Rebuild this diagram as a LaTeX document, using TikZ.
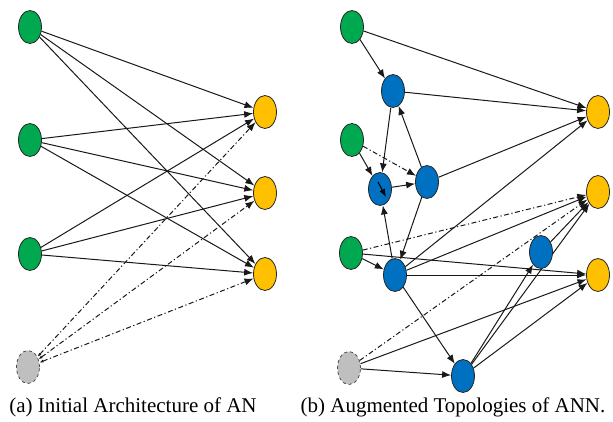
\documentclass[tikz,border=0pt]{standalone}
\usepackage{fontspec}
\setmainfont{Liberation Serif}
\newfontfamily\capfont{Liberation Serif}
\usetikzlibrary{arrows.meta,shapes.geometric}
\pgfdeclarelayer{bg}
\pgfsetlayers{bg,main}
\definecolor{ingreen}{RGB}{0,168,80}
\definecolor{hidblue}{RGB}{0,112,192}
\definecolor{outyel}{RGB}{255,192,0}
\definecolor{biasgray}{RGB}{191,191,191}
\tikzset{
  neuron/.style={ellipse,draw=black!85,line width=0.8pt,minimum width=23pt,minimum height=33pt,inner sep=0pt},
  innode/.style={neuron,fill=ingreen},
  hidnode/.style={neuron,fill=hidblue},
  outnode/.style={neuron,fill=outyel},
  biasnode/.style={neuron,fill=biasgray,dashed,draw=black!70},
  conn/.style={line width=1pt,black!90,-{Latex[length=9pt,width=7pt]}},
  dconn/.style={conn,dash pattern=on 5pt off 2.5pt on 1.2pt off 2.5pt},
  captext/.style={font=\capfont\fontsize{21}{25}\selectfont,anchor=base}
}
\begin{document}
\begin{tikzpicture}[x=1pt,y=1pt]
\useasboundingbox (0,0) rectangle (613,-421);
% ---------- (a) ----------
\node[innode] (a1) at (30,-27) {};
\node[innode] (a2) at (30,-140) {};
\node[innode] (a3) at (30,-254) {};
\node[biasnode] (ab) at (28,-367) {};
\node[outnode] (ao1) at (265,-112) {};
\node[outnode] (ao2) at (265,-193) {};
\node[outnode] (ao3) at (265,-274) {};
\begin{pgfonlayer}{bg}
\foreach \i in {a1,a2,a3}{
  \foreach \o in {ao1,ao2,ao3}{
    \draw[conn] (\i) -- (\o);
  }
}
\foreach \o in {ao1,ao2,ao3}{
  \draw[dconn,{Latex[length=4pt,width=3pt]}-{Latex[length=9pt,width=7pt]}] (ab) -- (\o);
}
\end{pgfonlayer}
\node[captext] (capa) at (133,-412) {(a) Initial Architecture of AN};
% ---------- (b) ----------
\node[innode] (g1) at (352,-27) {};
\node[innode] (g2) at (352,-140) {};
\node[innode] (g3) at (351,-253) {};
\node[biasnode] (gb) at (349,-368) {};
\node[hidnode] (b1) at (393,-91) {};
\node[hidnode] (b2) at (380,-189) {};
\node[hidnode] (b3) at (427,-182) {};
\node[hidnode] (b4) at (395,-275) {};
\node[hidnode] (b5) at (541,-252) {};
\node[hidnode] (b6) at (463,-376) {};
\node[outnode] (y1) at (598,-112) {};
\node[outnode] (y2) at (598,-192) {};
\node[outnode] (y3) at (598,-275) {};
\coordinate (s1) at (378,-182);
\coordinate (s2) at (386,-197);
\draw[line width=1pt,-{Latex[length=8pt,width=6pt]}] (s1) -- (s2);
\begin{pgfonlayer}{bg}
\draw[conn] (g1) -- (y1);
\draw[conn] (g1) -- (b1);
\draw[conn] (b1) -- (y1);
\draw[conn] (b1) -- (b2);
\draw[conn] (b3) -- (b1);
\draw[conn] (g2) -- (b2);
\draw[dconn] (g2) -- (b3);
\draw[conn] (b2) -- (b3);
\draw[conn] (b3) -- (y1);
\draw[conn] (b3) -- (b4);
\draw[conn] (b4) -- (b2);
\draw[conn] (g3) -- (b4);
\draw[dconn] (g3) -- (y2);
\draw[conn] (g3) -- (y3);
\draw[conn] (b4) -- (y1);
\draw[conn] (b4) -- (y2);
\draw[conn] (b4) -- (y3);
\draw[conn] (b4) -- (b6);
\draw[conn] (gb) -- (b6);
\draw[conn] (gb) -- (y3);
\draw[dconn] (gb) -- (y2);
\draw[conn] (b6) -- (b5);
\draw[conn] (b6) -- (y2);
\draw[conn] (b6) -- (y3);
\draw[conn] (b5) -- (y2);
\end{pgfonlayer}
\node[captext] (capb) at (453,-412) {(b) Augmented Topologies of ANN.};
\end{tikzpicture}
\end{document}
